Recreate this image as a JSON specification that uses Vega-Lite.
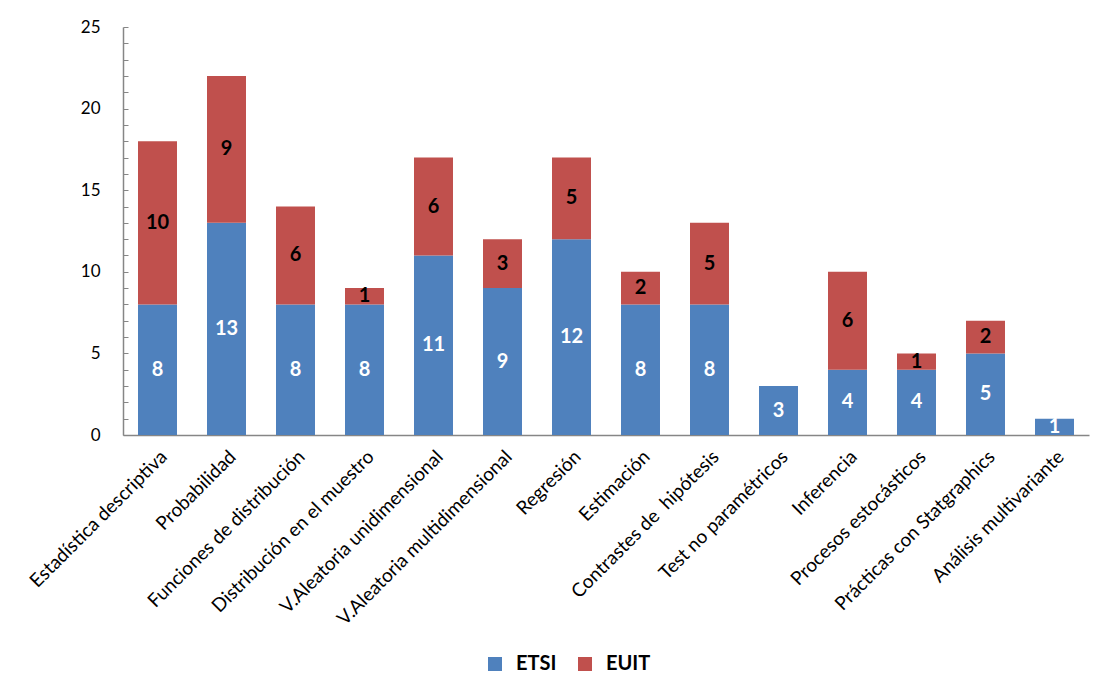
{
  "$schema": "https://vega.github.io/schema/vega-lite/v6.json",
  "autosize": {"type": "none"},
  "width": 966,
  "height": 408,
  "padding": {"left": 123, "top": 27, "right": 15, "bottom": 254},
  "background": "white",
  "config": {
    "font": "Lato",
    "view": {"stroke": null},
    "axis": {"grid": false},
    "axisY": {
      "tickCount": 25,
      "labelExpr": "datum.value % 5 === 0 ? datum.label : ''",
      "labelOverlap": false,
      "labelFlush": false,
      "labelFontSize": 17,
      "labelColor": "black",
      "tickSize": -5,
      "tickColor": "#868686",
      "labelPadding": 28,
      "domainColor": "#868686",
      "domainWidth": 1.5
    }
  },
  "data": {
    "values": [
      {"tema": "Estadística descriptiva", "grupo": "ETSI", "n": 8},
      {"tema": "Estadística descriptiva", "grupo": "EUIT", "n": 10},
      {"tema": "Probabilidad", "grupo": "ETSI", "n": 13},
      {"tema": "Probabilidad", "grupo": "EUIT", "n": 9},
      {"tema": "Funciones de distribución", "grupo": "ETSI", "n": 8},
      {"tema": "Funciones de distribución", "grupo": "EUIT", "n": 6},
      {"tema": "Distribución en el muestro", "grupo": "ETSI", "n": 8},
      {"tema": "Distribución en el muestro", "grupo": "EUIT", "n": 1},
      {"tema": "V.Aleatoria unidimensional", "grupo": "ETSI", "n": 11},
      {"tema": "V.Aleatoria unidimensional", "grupo": "EUIT", "n": 6},
      {"tema": "V.Aleatoria multidimensional", "grupo": "ETSI", "n": 9},
      {"tema": "V.Aleatoria multidimensional", "grupo": "EUIT", "n": 3},
      {"tema": "Regresión", "grupo": "ETSI", "n": 12},
      {"tema": "Regresión", "grupo": "EUIT", "n": 5},
      {"tema": "Estimación", "grupo": "ETSI", "n": 8},
      {"tema": "Estimación", "grupo": "EUIT", "n": 2},
      {"tema": "Contrastes de\u00a0 hipótesis", "grupo": "ETSI", "n": 8},
      {"tema": "Contrastes de\u00a0 hipótesis", "grupo": "EUIT", "n": 5},
      {"tema": "Test no paramétricos", "grupo": "ETSI", "n": 3},
      {"tema": "Inferencia", "grupo": "ETSI", "n": 4},
      {"tema": "Inferencia", "grupo": "EUIT", "n": 6},
      {"tema": "Procesos estocásticos", "grupo": "ETSI", "n": 4},
      {"tema": "Procesos estocásticos", "grupo": "EUIT", "n": 1},
      {"tema": "Prácticas con Statgraphics", "grupo": "ETSI", "n": 5},
      {"tema": "Prácticas con Statgraphics", "grupo": "EUIT", "n": 2},
      {"tema": "Análisis multivariante", "grupo": "ETSI", "n": 1}
    ]
  },
  "transform": [
    {"stack": "n", "groupby": ["tema"], "sort": [{"field": "grupo", "order": "ascending"}], "as": ["y0", "y1"]},
    {"calculate": "(datum.y0 + datum.y1) / 2", "as": "ymid"}
  ],
  "encoding": {
    "x": {
      "field": "tema",
      "type": "nominal",
      "sort": null,
      "title": null,
      "scale": {"paddingInner": 0.435, "paddingOuter": 0.2175},
      "axis": {
        "labelAngle": -45,
        "labelFontSize": 19,
        "labelColor": "black",
        "labelPadding": 12,
        "labelOverlap": false,
        "ticks": false,
        "domainColor": "#868686",
        "domainWidth": 1.5,
        "labelLimit": 400
      }
    }
  },
  "layer": [
    {
      "mark": {"type": "bar"},
      "encoding": {
        "y": {
          "field": "y0",
          "type": "quantitative",
          "title": null,
          "scale": {"domain": [0, 25], "nice": false}
        },
        "y2": {"field": "y1"},
        "color": {
          "field": "grupo",
          "type": "nominal",
          "scale": {"domain": ["ETSI", "EUIT"], "range": ["#4F81BD", "#C0504D"]},
          "legend": {
            "title": null,
            "orient": "none",
            "legendX": 362,
            "legendY": 627,
            "direction": "horizontal",
            "symbolType": "square",
            "symbolSize": 196,
            "symbolStrokeWidth": 0,
            "labelFontSize": 20,
            "labelFontWeight": "bold",
            "labelColor": "black",
            "labelOffset": 11,
            "columnPadding": 18
          }
        }
      }
    },
    {
      "mark": {"type": "text", "fontSize": 20, "fontWeight": "bold", "baseline": "middle"},
      "encoding": {
        "y": {"field": "ymid", "type": "quantitative", "title": null},
        "text": {"field": "n", "type": "quantitative"},
        "color": {"condition": {"test": "datum.grupo === 'ETSI'", "value": "white"}, "value": "black"}
      }
    }
  ]
}
